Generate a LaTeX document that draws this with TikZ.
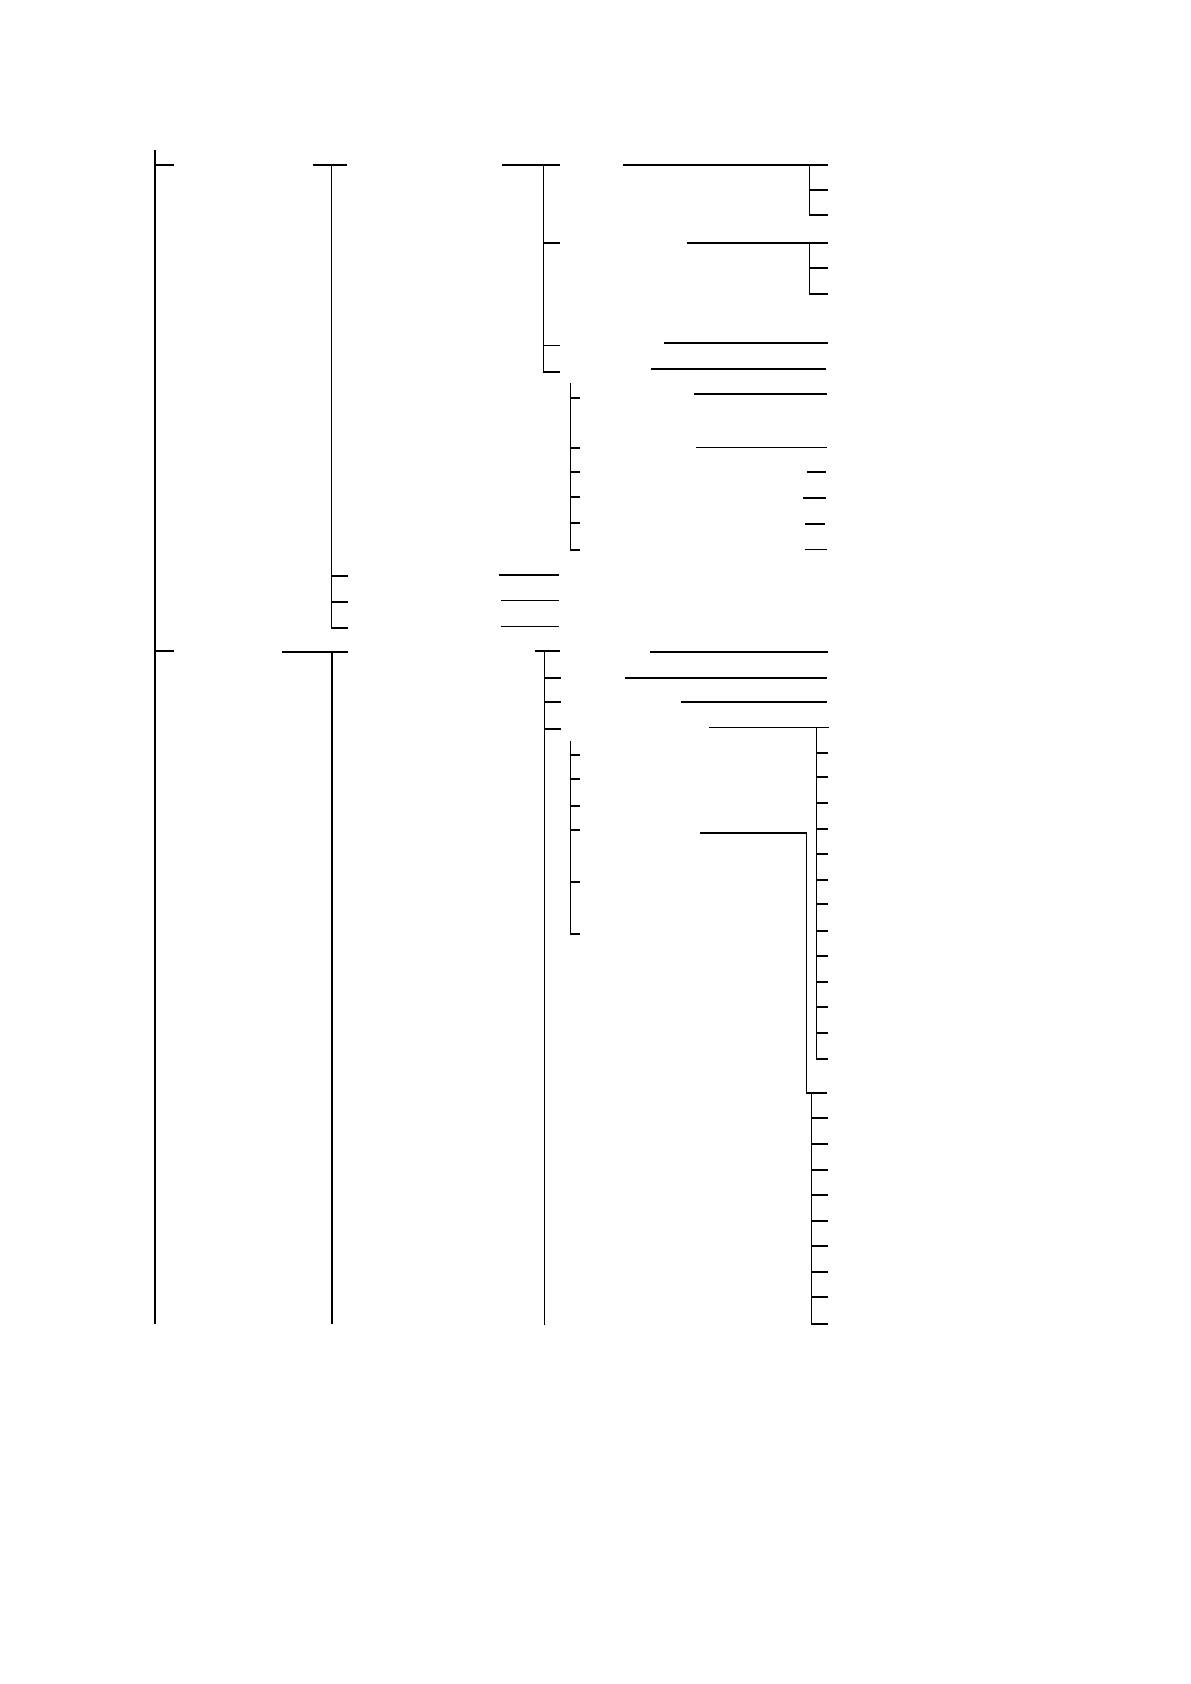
\documentclass[tikz,border=0pt]{standalone}
\usepackage{tikz}
\tikzset{
  rule/.style={line width=0.6pt, line cap=rect},
}

\begin{document}
\begin{tikzpicture}[x=0.5pt, y=-0.5pt]
			%%%%% START %%%%%
			\useasboundingbox (0, 0) rectangle (1190, 1684);
			
			% level 1
			\draw[rule] (155, 151) -- (155, 1323);
			\draw[rule] (155, 165) -- (173, 165);
			\draw[rule] (155, 651) -- (173, 651);
			
			% level 2
			\draw[rule] (314, 165) -- (346, 165);
			\draw[rule] (331.5, 165) -- (331.5, 628) -- (347, 628);
			\foreach \yy in {576, 602}
				\draw[rule] (331.5, \yy) -- (347, \yy);
			
			\draw[rule] (283, 652) -- (347, 652);
			\draw[rule] (332, 652) -- (332, 1323);
			
			% level 3
			\draw[rule] (503, 165) -- (559, 165);
			\draw[rule] (543.5, 165) -- (543.5, 372) -- (559, 372);
			\foreach \yy in {243, 345.5}
				\draw[rule] (543.5, \yy) -- (559, \yy);
			
			\draw[rule] (500, 575) -- (558, 575);
			\draw[rule] (502, 600.5) -- (558, 600.5);
			\draw[rule] (502, 626.5) -- (558, 626.5);
			
			\draw[rule] (536, 651) -- (559, 651);
			\draw[rule] (544.3, 651) -- (544.3, 1324);
			\foreach \yy in {678, 702, 729}
				\draw[rule] (544.3, \yy) -- (560, \yy);
			
			% level 4
			\draw[rule] (570.5, 384) -- (570.5, 550) -- (579, 550);
			\foreach \yy in {398, 448, 472, 497, 523}
				\draw[rule] (570.5, \yy) -- (579, \yy);
			
			\draw[rule] (570.5, 742) -- (570.5, 934) -- (579, 934);
			\foreach \yy in {755, 779, 806, 830, 882}
				\draw[rule] (570.5, \yy) -- (579, \yy);
			
			% right column, upper part
			\draw[rule] (624, 165) -- (827, 165);
			\draw[rule] (809.3, 165) -- (809.3, 215) -- (827, 215);
			\draw[rule] (809.3, 190) -- (827, 190);
			
			\draw[rule] (688, 243) -- (827, 243);
			\draw[rule] (809.3, 243) -- (809.3, 294) -- (827, 294);
			\draw[rule] (809.3, 268) -- (827, 268);
			
			\draw[rule] (665, 343) -- (827, 343);
			\draw[rule] (652, 369) -- (825, 369);
			\draw[rule] (695, 394) -- (826, 394);
			\draw[rule] (697, 447.5) -- (826, 447.5);
			\draw[rule] (808, 472) -- (825, 472);
			\draw[rule] (804, 498) -- (825, 498);
			\draw[rule] (806, 524) -- (824, 524);
			\draw[rule] (806, 549.5) -- (826, 549.5);
			
			% right column, lower part
			\draw[rule] (651, 652) -- (827, 652);
			\draw[rule] (626, 678) -- (826, 678);
			\draw[rule] (682, 702) -- (826, 702);
			
			\draw[rule] (710, 727.5) -- (828, 727.5);
			\draw[rule] (816.3, 727.5) -- (816.3, 1059) -- (827, 1059);
			\foreach \yy in {753, 777, 803, 829, 854, 880, 904, 931, 956, 982, 1007, 1033}
				\draw[rule] (816.3, \yy) -- (827, \yy);
			
			\draw[rule] (701, 833) -- (806.5, 833) -- (806.5, 1093) -- (826.7, 1093);
			\draw[rule] (811.5, 1093) -- (811.5, 1324) -- (827, 1324);
			\foreach \yy in {1118, 1144, 1170, 1195, 1221, 1246, 1272, 1297}
				\draw[rule] (811.5, \yy) -- (827, \yy);
			
			%%%%% END %%%%%
		\end{tikzpicture}
\end{document}
